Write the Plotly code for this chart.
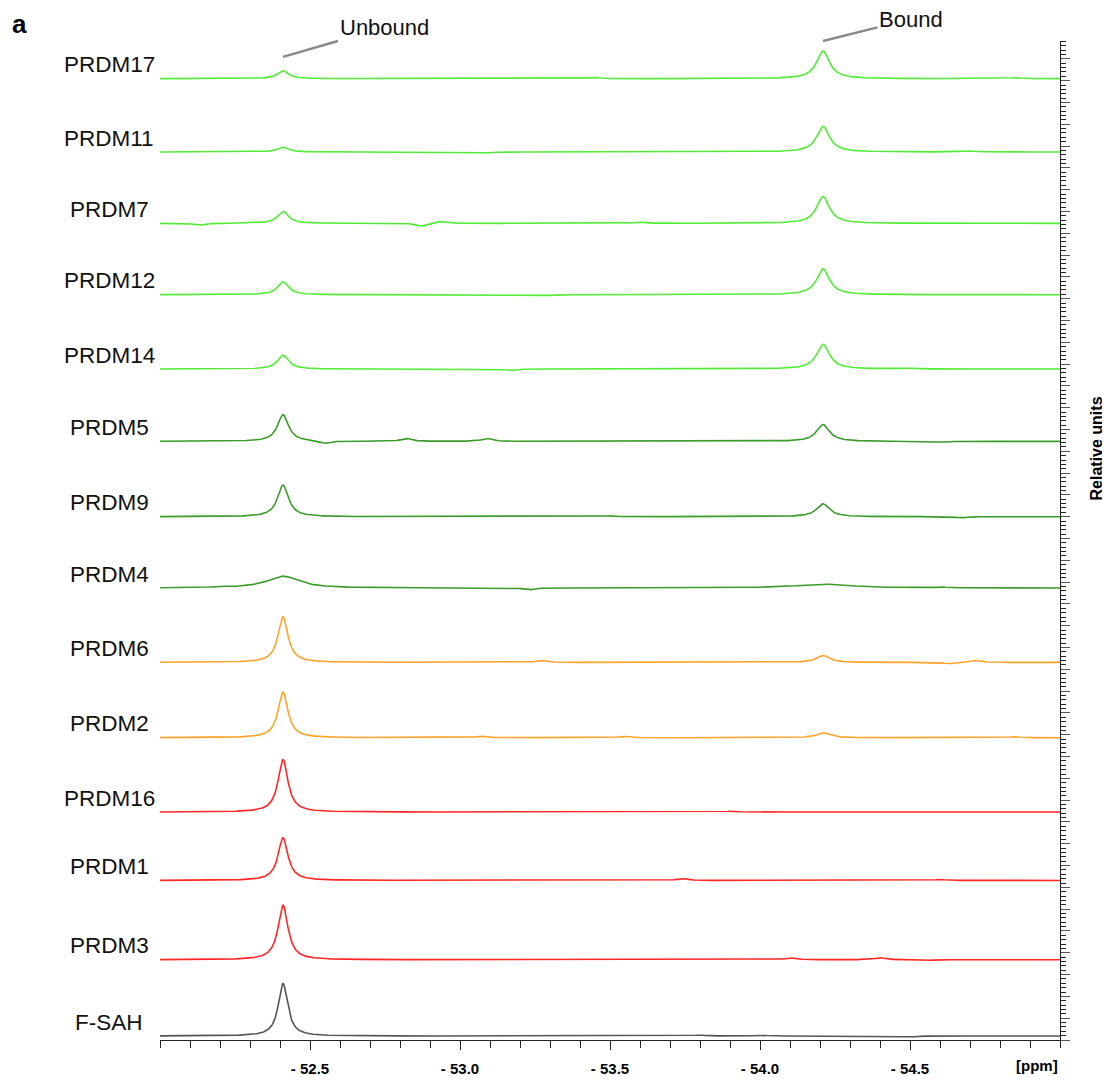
import numpy as np
import plotly.graph_objects as go

# ---------------- data ----------------
labels = ["PRDM17", "PRDM11", "PRDM7", "PRDM12", "PRDM14", "PRDM5", "PRDM9",
          "PRDM4", "PRDM6", "PRDM2", "PRDM16", "PRDM1", "PRDM3", "F-SAH"]
# vertical stacking offset of each spectrum (relative units)
offsets = [970, 896, 824, 752, 677, 604, 528, 456, 381, 305, 230, 161, 81, 4]
# peak positions (ppm)
unbound_ppm = -52.41
bound_ppm = -54.21
# peak heights (relative units)
unbound_height = [8, 5, 12, 13, 14, 27, 32, 12, 46, 46, 53, 43, 55, 53]
bound_height = [28, 26, 27, 26, 25, 17, 13, 4, 7, 5, 0, 0, 0, 0]
# peak half-widths (ppm)
unbound_width = [0.022, 0.022, 0.022, 0.022, 0.022, 0.022, 0.022, 0.065, 0.02, 0.02, 0.02, 0.02, 0.02, 0.019]
bound_width = [0.026, 0.026, 0.026, 0.026, 0.026, 0.026, 0.026, 0.11, 0.026, 0.026, 0.026, 0.026, 0.026, 0.026]
# small baseline features seen on each trace: (ppm, height)
ripples = [
    [(-53.45, 1.2), (-54.85, 1.0)],
    [(-54.70, 1.0), (-53.10, -0.8)],
    [(-52.13, -2.0), (-52.87, -3.0), (-52.93, 2.0), (-53.6, 1.2)],
    [(-53.3, -0.8)],
    [(-53.17, -1.5), (-54.5, 0.8)],
    [(-52.55, -2.5), (-52.82, 3.0), (-53.09, 3.0), (-54.6, -1.0)],
    [(-54.67, -1.2), (-53.5, 0.8)],
    [(-53.23, -2.0), (-52.2, 1.0), (-54.6, 1.0)],
    [(-53.27, 2.0), (-54.72, 2.0), (-54.63, -1.5)],
    [(-53.07, 1.5), (-53.55, 1.5), (-54.85, 1.0)],
    [(-53.9, 0.8)],
    [(-53.74, 2.0), (-54.6, 1.0)],
    [(-54.10, 2.0), (-54.40, 2.0), (-54.55, -1.0)],
    [(-53.8, 1.0), (-54.5, -1.0), (-54.0, 1.0)],
]
x_ticks = [-52.5, -53.0, -53.5, -54.0, -54.5]
x_ticktext = ["- 52.5", "- 53.0", "- 53.5", "- 54.0", "- 54.5"]

# ---------------- styles ----------------
LIGHT_GREEN = "#52EC35"
DARK_GREEN = "#3B9B2B"
ORANGE = "#FFA229"
RED = "#FF2626"
GREY = "#555555"
colors = [LIGHT_GREEN] * 5 + [DARK_GREEN] * 3 + [ORANGE] * 2 + [RED] * 3 + [GREY]

ppm = np.linspace(-52.0, -55.0, 1801)


def lorentz(x, x0, h, g):
    return h * g * g / ((x - x0) ** 2 + g * g)


fig = go.Figure()
for i, name in enumerate(labels):
    y = np.full_like(ppm, float(offsets[i]))
    y += lorentz(ppm, unbound_ppm, unbound_height[i], unbound_width[i])
    if bound_height[i]:
        y += lorentz(ppm, bound_ppm, bound_height[i], bound_width[i])
    for (p, h) in ripples[i]:
        y += lorentz(ppm, p, h, 0.02)
    fig.add_trace(go.Scatter(x=ppm, y=y, mode="lines", name=name,
                             line=dict(color=colors[i], width=1.6),
                             showlegend=False, hoverinfo="skip"))

annos = []
for i, name in enumerate(labels):
    annos.append(dict(x=0, xref="paper", xshift=-51, y=offsets[i], yref="y",
                      yshift=14, text=name, showarrow=False, xanchor="center",
                      yanchor="middle",
                      font=dict(family="Arial, Liberation Sans", size=22.5, color="#111")))

# Unbound / Bound labels with pointer lines
annos.append(dict(x=unbound_ppm, y=992, xref="x", yref="y", text="Unbound",
                  showarrow=True, arrowhead=0, arrowwidth=2.5, arrowcolor="#8a8a8a",
                  ax=101, ay=-29, axref="pixel", ayref="pixel",
                  font=dict(family="Arial, Liberation Sans", size=22, color="#111")))
annos.append(dict(x=bound_ppm, y=1008, xref="x", yref="y", text="Bound",
                  showarrow=True, arrowhead=0, arrowwidth=2.5, arrowcolor="#8a8a8a",
                  ax=88, ay=-22, axref="pixel", ayref="pixel",
                  font=dict(family="Arial, Liberation Sans", size=22, color="#111")))
# panel letter
annos.append(dict(x=0, y=1, xref="paper", yref="paper", xshift=-141, yshift=33,
                  text="<b>a</b>", showarrow=False, xanchor="center", yanchor="top",
                  borderpad=0,
                  font=dict(family="Arial, Liberation Sans", size=26, color="#000")))
# ppm unit label
annos.append(dict(x=0.974, y=0, xref="paper", yref="paper", yshift=-25,
                  text="<b>[ppm]</b>", showarrow=False, xanchor="center", yanchor="middle",
                  font=dict(family="Arial, Liberation Sans", size=15, color="#000")))
# right axis title
annos.append(dict(x=1.041, y=0.592, xref="paper", yref="paper", textangle=-90,
                  text="<b>Relative units</b>", showarrow=False, xanchor="center",
                  yanchor="middle",
                  font=dict(family="Arial, Liberation Sans", size=16, color="#000")))

fig.update_layout(
    width=1102, height=1081,
    margin=dict(l=152, r=50, t=33, b=40),
    paper_bgcolor="white", plot_bgcolor="white",
    annotations=annos,
    xaxis=dict(range=[-52.0, -55.0], showgrid=False, zeroline=False,
               showline=True, linecolor="#222", linewidth=1.3,
               ticks="outside", ticklen=9, tickwidth=1.3, tickcolor="#222",
               tickvals=x_ticks, ticktext=["<b>%s</b>" % t for t in x_ticktext],
               tickfont=dict(family="Arial, Liberation Sans", size=15, color="#000"),
               ticklabelstandoff=6,
               minor=dict(dtick=0.1, tick0=-52.0, ticks="outside", ticklen=7,
                          tickwidth=1.2, tickcolor="#222")),
    yaxis=dict(range=[0, 1008], side="right", showgrid=False, zeroline=False,
               showline=True, linecolor="#222", linewidth=1.3,
               ticks="outside", ticklen=9, tickwidth=1.2, tickcolor="#555",
               dtick=22, tick0=0, showticklabels=False,
               minor=dict(dtick=4.4, tick0=0, ticks="outside", ticklen=5,
                          tickwidth=1.1, tickcolor="#222")),
)

fig.write_html("out.html")
